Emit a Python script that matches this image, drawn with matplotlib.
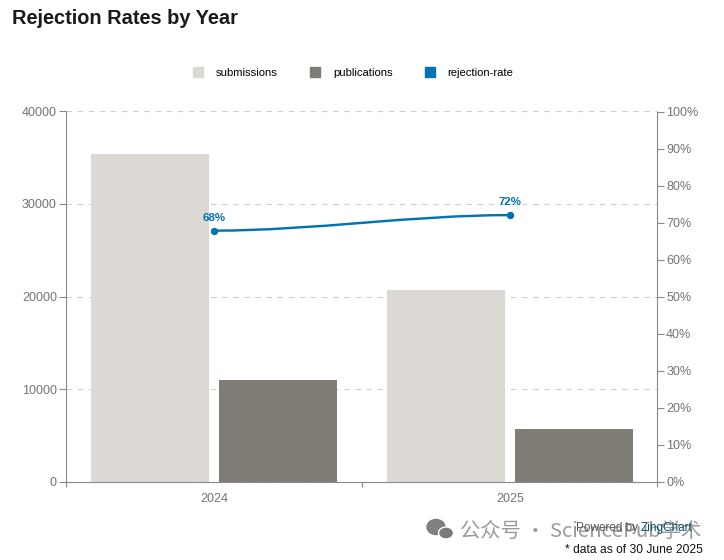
import matplotlib
matplotlib.use("Agg")
import matplotlib.pyplot as plt
import numpy as np
from matplotlib.lines import Line2D
from matplotlib.path import Path
from matplotlib.patches import PathPatch, Ellipse

plt.rcParams['font.family'] = ['Liberation Sans', 'DejaVu Sans']

years = ['2024', '2025']
submissions = [35400, 20700]
publications = [10970, 5680]
rejection_rate = [67.8, 72.0]
rate_labels = ['68%', '72%']
left_ticks = [0, 10000, 20000, 30000, 40000]
right_ticks = list(range(0, 101, 10))

C_SUB = '#dcd9d5'
C_PUB = '#7f7b75'
C_RATE = '#0073b1'
C_AXIS = '#8a8a8a'
C_TEXT = '#77736e'
W, H = 724, 560
px = 72 / 100

fig = plt.figure(figsize=(W / 100, H / 100), dpi=100)
ax = fig.add_axes([66 / W, 1 - 481.5 / H, 591 / W, 370 / H])
x = np.arange(len(years))
ax.bar(x - 0.2166, submissions, 0.4, color=C_SUB, zorder=2)
ax.bar(x + 0.2166, publications, 0.4, color=C_PUB, zorder=2)
ax.set_xlim(-0.5, 1.4975)
ax.set_ylim(0, 40000)
ax.set_yticks(left_ticks)
ax.set_xticks([-0.5, 0.5, 1.4975])
ax.set_xticklabels([])
ax.set_xticks(x, minor=True)
ax.set_xticklabels(years, minor=True)
ax.tick_params(axis='x', which='minor', length=0, labelsize=12.5 * px, labelcolor=C_TEXT, pad=8)
ax.tick_params(axis='x', which='major', length=5 * px, width=0.8, color=C_AXIS)
ax.tick_params(axis='y', length=7 * px, width=0.8, color=C_AXIS, labelsize=12.5 * px, labelcolor=C_TEXT, pad=1.5)
ax.grid(axis='y', color='#cfcfcf', lw=0.8, ls=(0, (5, 5)), zorder=1, clip_on=False)
ax.set_axisbelow(True)
ax.spines['top'].set_visible(False)
ax.spines['right'].set_visible(False)
for s in ['left', 'bottom']:
    ax.spines[s].set_color(C_AXIS)
    ax.spines[s].set_linewidth(0.8)

ax2 = ax.twinx()
ax2.set_ylim(0, 100)
ax2.set_yticks(right_ticks)
ax2.set_yticklabels([f'{t}%' for t in right_ticks])
ax2.tick_params(axis='y', length=7 * px, width=0.8, color=C_AXIS, labelsize=12.5 * px, labelcolor=C_TEXT, pad=1.5)
for s in ['top', 'left', 'bottom']:
    ax2.spines[s].set_visible(False)
ax2.spines['right'].set_color(C_AXIS)
ax2.spines['right'].set_linewidth(0.8)

# smooth spline between the two yearly values
third = (x[1] - x[0]) / 3
verts = [(x[0], rejection_rate[0]), (x[0] + third, rejection_rate[0]),
         (x[1] - third, rejection_rate[1]), (x[1], rejection_rate[1])]
ax2.add_patch(PathPatch(Path(verts, [Path.MOVETO, Path.CURVE4, Path.CURVE4, Path.CURVE4]),
                        fc='none', ec=C_RATE, lw=2.4 * px, zorder=5))
ax2.plot(x, rejection_rate, ls='none', marker='o', ms=6 * px, color=C_RATE, zorder=6)
for xi, v, lab in zip(x, rejection_rate, rate_labels):
    ax2.annotate(lab, (xi, v), xytext=(0, 8 * px), textcoords='offset points', ha='center', va='bottom',
                 fontsize=11.5 * px, fontweight='bold', color=C_RATE, zorder=7)

fig.text(12 / W, 1 - 19 / H, 'Rejection Rates by Year', fontsize=20 * px, fontweight='bold', color='#1a1a1a', va='center')

handles = [Line2D([], [], ls='none', marker='s', ms=10 * px, color=c) for c in (C_SUB, C_PUB, C_RATE)]
fig.legend(handles, ['submissions', 'publications', 'rejection-rate'], ncols=3, frameon=False,
           loc='center', bbox_to_anchor=(353 / W, 1 - 73 / H), fontsize=11.2 * px,
           handlelength=1, handletextpad=1.1, columnspacing=2.8, labelcolor='black')

# watermark
icon = fig.add_axes([0, 0, 1, 1], zorder=8)
icon.set_xlim(0, W)
icon.set_ylim(H, 0)
icon.axis('off')
icon.patch.set_alpha(0)
icon.add_patch(Ellipse((436, 527), 18, 15, color='#7a7a7a', alpha=.95))
icon.add_patch(Ellipse((446, 533), 15, 12, color='#7a7a7a', ec='white', lw=1))
fig.text(460 / W, 1 - 531 / H, '公众号 · SciencePub学术', fontsize=20.3 * px, color='#9a9a9a', va='center',
         family=['Noto Sans CJK SC', 'DejaVu Sans'], zorder=9)
fig.text(576 / W, 1 - 528 / H, 'Powered by ', fontsize=11.7 * px, color='#555555', va='center', zorder=10)
fig.text(641 / W, 1 - 528 / H, 'ZingChart', fontsize=11.7 * px, color='#0b4f6c', va='center', zorder=10)
fig.text(703 / W, 1 - 550 / H, '* data as of 30 June 2025', fontsize=12 * px, color='#111111', va='center', ha='right', zorder=10)

fig.savefig('out.png', dpi=100)
